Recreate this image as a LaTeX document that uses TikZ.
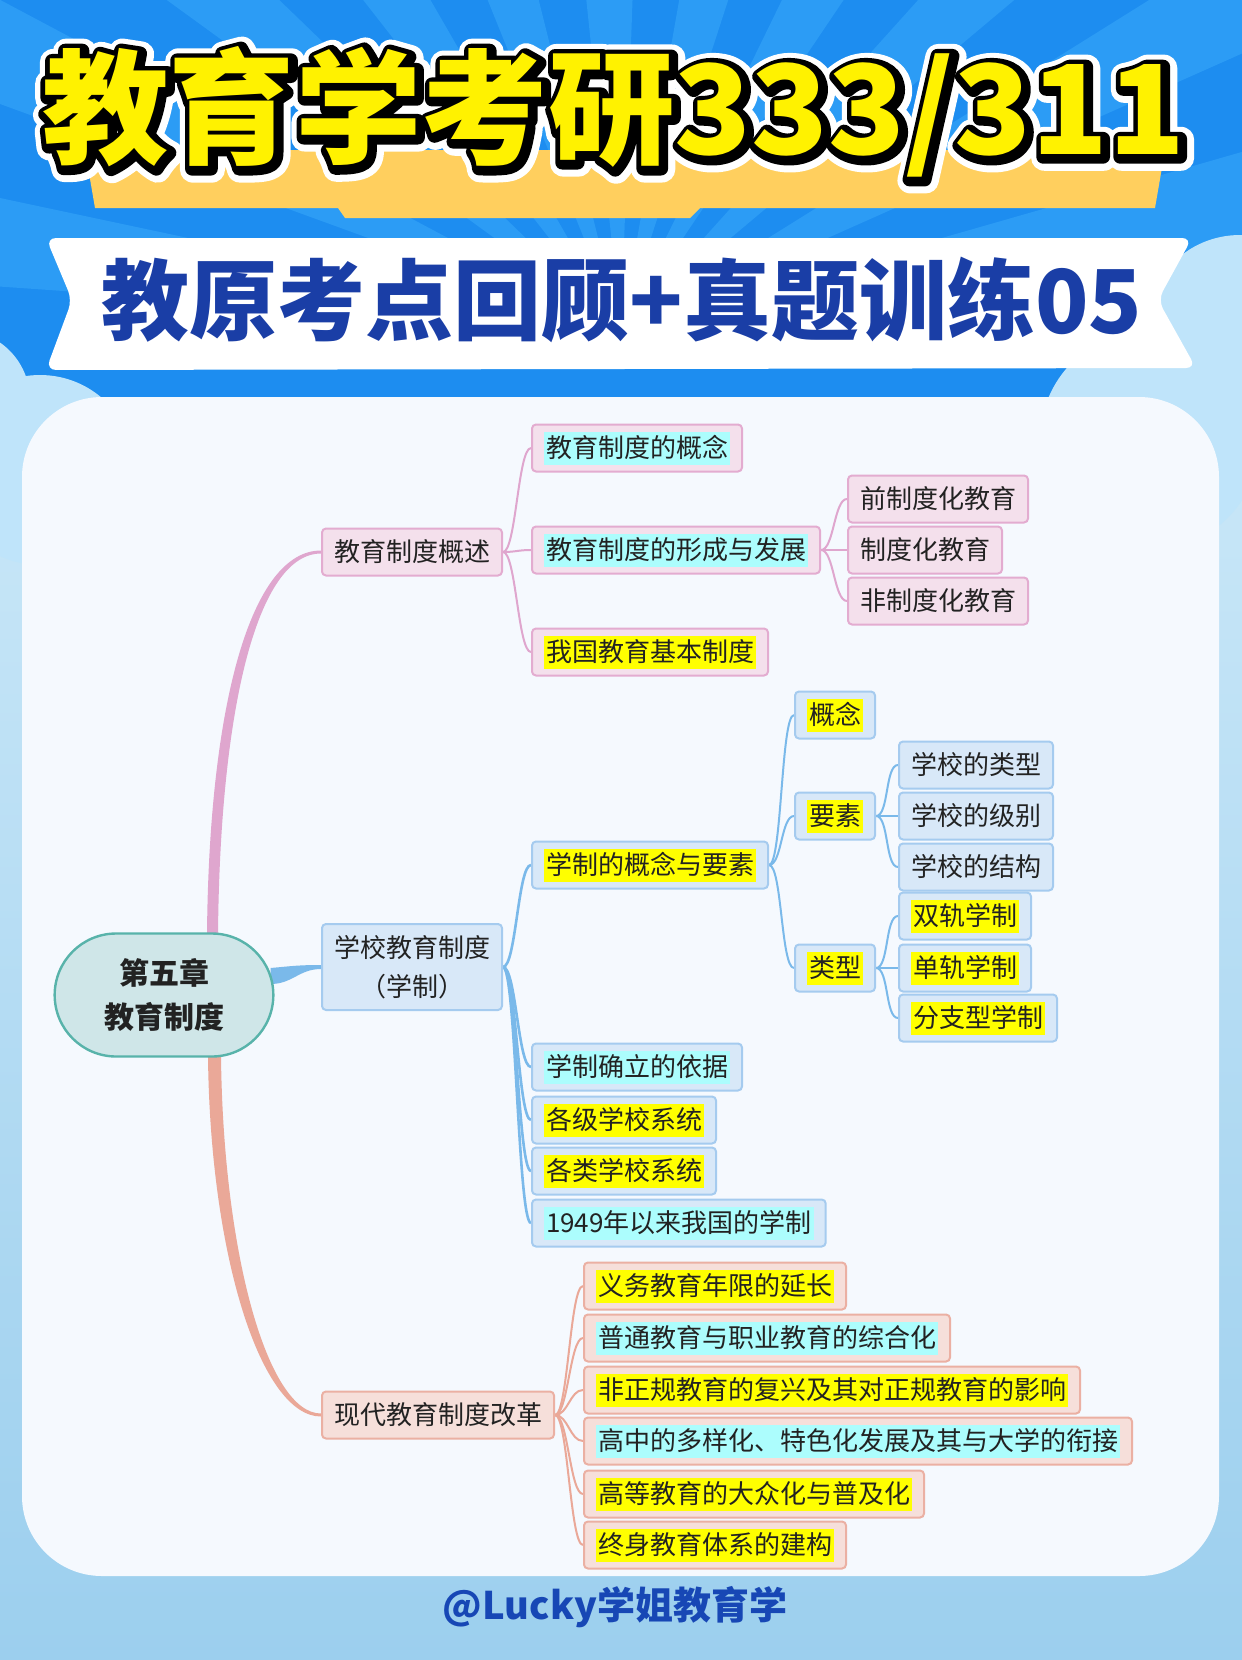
\documentclass[tikz,border=0pt]{standalone}
\usepackage{fontspec}
\setmainfont{Noto Sans CJK SC}
\usetikzlibrary{calc,shapes.misc}

\definecolor{skyblue}{HTML}{1D8DF0}
\definecolor{skyray}{HTML}{2C9CF5}
\definecolor{pagetop}{HTML}{CBE8F8}
\definecolor{pagebot}{HTML}{9CCFEE}
\definecolor{cloudlight}{HTML}{BFE4FA}
\definecolor{panelwhite}{HTML}{F5F9FE}
\definecolor{bannerorange}{HTML}{FFCF5E}
\definecolor{titleyellow}{HTML}{FFF200}
\definecolor{subblue}{HTML}{1A3EA6}
\definecolor{footblue}{HTML}{1747B5}
\definecolor{inkblack}{HTML}{222222}
\definecolor{rootfill}{HTML}{CFE6E8}
\definecolor{rootline}{HTML}{58B3AA}
\definecolor{pinkfill}{HTML}{F4E0EC}
\definecolor{pinkline}{HTML}{E3ACD0}
\definecolor{pinkwire}{HTML}{DFA6CE}
\definecolor{bluefill}{HTML}{D8E8F8}
\definecolor{blueline}{HTML}{A5CBEF}
\definecolor{bluewire}{HTML}{7AB9EA}
\definecolor{salmonfill}{HTML}{F6DFDA}
\definecolor{salmonline}{HTML}{EBB0A3}
\definecolor{salmonwire}{HTML}{EAA898}
\definecolor{hlyellow}{HTML}{FFFF00}
\definecolor{hlcyan}{HTML}{ACFDFD}

\pgfdeclarelayer{back}
\pgfdeclarelayer{wires}
\pgfsetlayers{back,wires,main}

\newcommand{\hly}[1]{{\setlength{\fboxsep}{1pt}\colorbox{hlyellow}{\rule[-2.5pt]{0pt}{14.5pt}#1}}}
\newcommand{\hlc}[1]{{\setlength{\fboxsep}{1pt}\colorbox{hlcyan}{\rule[-2.5pt]{0pt}{14.5pt}#1}}}
\newcommand{\titletext}{教育学考研333/311}
% text drawn as fill + stroke of width #1 (bp)
\newcommand{\outlined}[2]{\special{pdf:literal direct 1 j #1 w 2 Tr}#2\special{pdf:literal direct 0 Tr}}

\begin{document}
\begin{tikzpicture}[x=0.5pt, y=-0.5pt,
        topic/.style={rectangle, draw, line width=1pt, rounded corners=2pt, minimum height=23.5pt, inner xsep=6pt, inner ysep=2pt, text=inkblack, font=\fontsize{13}{15}\selectfont},
        pinkbox/.style={topic, fill=pinkfill, draw=pinkline},
        bluebox/.style={topic, fill=bluefill, draw=blueline},
        salmonbox/.style={topic, fill=salmonfill, draw=salmonline},
        rootbox/.style={rounded rectangle, draw=rootline, fill=rootfill, line width=1.2pt, minimum width=116pt, minimum height=61.5pt, align=center, text=inkblack, font=\bfseries\fontsize{15}{22}\selectfont},
        titletxt/.style={inner sep=0pt, xscale=1.02, font=\bfseries\fontsize{62}{70}\selectfont},
        twig/.style={line width=1pt, to path={.. controls +(13,0) and +(-13,0) .. (\tikztotarget) \tikztonodes}}
    ]
    \useasboundingbox (0,0) rectangle (1242,1660);

    % Background
    \begin{pgfonlayer}{back}
    \shade[top color=pagetop, bottom color=pagebot] (0,380) rectangle (1242,1660);
    \fill[skyblue] (0,0) rectangle (1242,400);
    \begin{scope}
        \clip (0,0) rectangle (1242,400);
        \foreach \a in {184,200,...,352}
            \fill[skyray] (621,330) -- +(\a:1500) -- +(\a+8:1500) -- cycle;
    \end{scope}
    \fill[cloudlight] (40,470) circle (95);
    \fill[cloudlight] (-40,400) circle (70);
    \fill[cloudlight] (1150,440) circle (110);
    \fill[cloudlight] (1240,330) circle (95);
    \fill[panelwhite, rounded corners=40pt] (22,397) rectangle (1219,1576);
    % title banners
    \fill[bannerorange] (85,150) -- (1165,150) -- (1155,208) -- (700,208) -- (690,218) -- (345,218) -- (338,208) -- (95,208) -- cycle;
    \fill[white, rounded corners=5pt] (46,238) -- (1192,238) -- (1158,300) -- (1196,368) -- (46,370) -- (72,300) -- cycle;
    \end{pgfonlayer}

    % Title
    \coordinate (titlec) at (614,112);
    \node[titletxt, text=white] at ($(titlec)+(3,3)$) {\outlined{13}{\titletext}};
    \node[titletxt, text=black] at ($(titlec)+(2,2)$) {\outlined{7}{\titletext}};
    \node[titletxt, text=titleyellow] (title) at (titlec) {\titletext};

    \node[inner sep=0pt, text=subblue, font=\bfseries\fontsize{44}{50}\selectfont] (subtitle) at (622,300) {教原考点回顾+真题训练05};

    % Root
    \node[rootbox] (root) at (164,995) {第五章\\教育制度};

    % Branch 1
    \node[pinkbox, anchor=west] (ov) at (321,552) {教育制度概述};
    \node[pinkbox, anchor=west] (ov1) at (531,448) {\hlc{教育制度的概念}};
    \node[pinkbox, anchor=west] (ov2) at (531,550) {\hlc{教育制度的形成与发展}};
    \node[pinkbox, anchor=west] (ov3) at (531,652) {\hly{我国教育基本制度}};
    \node[pinkbox, anchor=west] (ov21) at (847,499) {前制度化教育};
    \node[pinkbox, anchor=west] (ov22) at (847,550) {制度化教育};
    \node[pinkbox, anchor=west] (ov23) at (847,601) {非制度化教育};

    % Branch 2
    \node[bluebox, anchor=west, align=center, minimum height=43pt, font=\fontsize{13}{19.5}\selectfont] (sys) at (321,967) {学校教育制度\\（学制）};
    \node[bluebox, anchor=west] (sys1) at (531,865) {\hly{学制的概念与要素}};
    \node[bluebox, anchor=west] (sys2) at (531,1067) {\hlc{学制确立的依据}};
    \node[bluebox, anchor=west] (sys3) at (531,1120) {\hly{各级学校系统}};
    \node[bluebox, anchor=west] (sys4) at (531,1171) {\hly{各类学校系统}};
    \node[bluebox, anchor=west] (sys5) at (531,1223) {\hlc{1949年以来我国的学制}};
    \node[bluebox, anchor=west] (sys11) at (794,715) {\hly{概念}};
    \node[bluebox, anchor=west] (sys12) at (794,816) {\hly{要素}};
    \node[bluebox, anchor=west] (sys13) at (794,968) {\hly{类型}};
    \node[bluebox, anchor=west] (sys121) at (898,765) {学校的类型};
    \node[bluebox, anchor=west] (sys122) at (898,816) {学校的级别};
    \node[bluebox, anchor=west] (sys123) at (898,867) {学校的结构};
    \node[bluebox, anchor=west] (sys131) at (898,916) {\hly{双轨学制}};
    \node[bluebox, anchor=west] (sys132) at (898,968) {\hly{单轨学制}};
    \node[bluebox, anchor=west] (sys133) at (898,1018) {\hly{分支型学制}};

    % Branch 3
    \node[salmonbox, anchor=west] (ref) at (321,1415) {现代教育制度改革};
    \node[salmonbox, anchor=west] (ref1) at (583,1286) {\hly{义务教育年限的延长}};
    \node[salmonbox, anchor=west] (ref2) at (583,1338) {\hlc{普通教育与职业教育的综合化}};
    \node[salmonbox, anchor=west] (ref3) at (583,1390) {\hly{非正规教育的复兴及其对正规教育的影响}};
    \node[salmonbox, anchor=west] (ref4) at (583,1441) {\hlc{高中的多样化、特色化发展及其与大学的衔接}};
    \node[salmonbox, anchor=west] (ref5) at (583,1494) {\hly{高等教育的大众化与普及化}};
    \node[salmonbox, anchor=west] (ref6) at (583,1545) {\hly{终身教育体系的建构}};

    % Footer
    \node[inner sep=0pt, text=footblue, font=\bfseries\fontsize{19}{22}\selectfont] (footer) at (615,1607) {@Lucky学姐教育学};

    % Connectors
    \begin{pgfonlayer}{wires}
    \fill[pinkwire] ($(root.north)+(43,2)$) .. controls +(2,-230) and +(-70,0) .. ($(ov.west)+(0,-1.5)$) -- ($(ov.west)+(0,1.5)$) .. controls +(-64,0) and +(2,-225) .. ($(root.north)+(54,2)$) -- cycle;
    \fill[bluewire] ($(root.east)+(-4,-27)$) .. controls +(22,-2) and +(-22,0) .. ($(sys.west)+(0,-2)$) -- ($(sys.west)+(0,2)$) .. controls +(-22,0) and +(22,0) .. ($(root.east)+(-4,-11)$) -- cycle;
    \fill[salmonwire] ($(root.south)+(44,-2)$) .. controls +(2,200) and +(-60,0) .. ($(ref.west)+(0,1.5)$) -- ($(ref.west)+(0,-1.5)$) .. controls +(-54,0) and +(2,195) .. ($(root.south)+(57,-2)$) -- cycle;

    \foreach \c in {ov1,ov2,ov3} \draw[twig, pinkwire] (ov.east) to (\c.west);
    \foreach \c in {ov21,ov22,ov23} \draw[twig, pinkwire] (ov2.east) to (\c.west);
    \foreach \c in {sys1,sys2,sys3,sys4,sys5} \draw[twig, bluewire, line width=1.3pt] (sys.east) to (\c.west);
    \foreach \c in {sys11,sys12,sys13} \draw[twig, bluewire] (sys1.east) to (\c.west);
    \foreach \c in {sys121,sys122,sys123} \draw[twig, bluewire] (sys12.east) to (\c.west);
    \foreach \c in {sys131,sys132,sys133} \draw[twig, bluewire] (sys13.east) to (\c.west);
    \foreach \c in {ref1,ref2,ref3,ref4,ref5,ref6} \draw[twig, salmonwire] (ref.east) to (\c.west);
    \end{pgfonlayer}

\end{tikzpicture}
\end{document}
